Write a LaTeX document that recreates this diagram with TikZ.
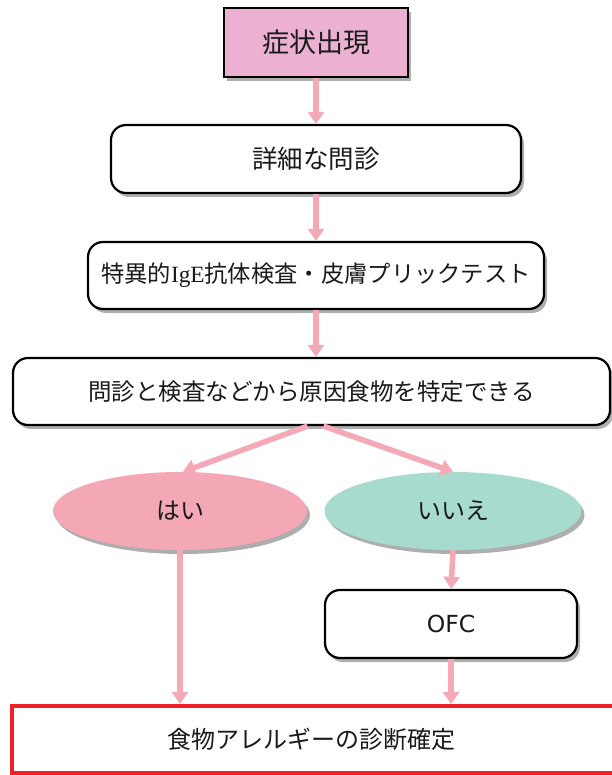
\documentclass[tikz,border=0pt]{standalone}
\usepackage{fontspec}
\setmainfont{Noto Sans CJK JP}
\newfontfamily\latinserif{Liberation Serif}
\newfontfamily\latinsans{DejaVu Sans}
\usetikzlibrary{shapes.geometric,shadows,arrows.meta}
\definecolor{toppink}{HTML}{EBB0D2}
\definecolor{arrowpink}{HTML}{F5A8B6}
\definecolor{yespink}{HTML}{F4A8B5}
\definecolor{nogreen}{HTML}{A6DBCE}
\definecolor{finalred}{HTML}{EE2028}
\definecolor{txt}{HTML}{1A1A1A}
\tikzset{
  boxshadow/.style={drop shadow={shadow xshift=3pt,shadow yshift=-4pt,opacity=0.45,fill=black!70}},
  topbox/.style={draw=black,line width=2.2pt,fill=toppink,rectangle,boxshadow,text=txt,font=\fontsize{27}{30}\selectfont,inner sep=0pt},
  roundbox/.style={draw=black,line width=2.2pt,fill=white,rectangle,rounded corners=15pt,boxshadow,text=txt,font=\fontsize{23.5}{27}\selectfont,inner sep=0pt},
  answer/.style={ellipse,draw=none,boxshadow,text=txt,font=\fontsize{24}{27}\selectfont,inner sep=0pt},
  finalbox/.style={draw=finalred,line width=4pt,fill=white,rectangle,text=txt,font=\fontsize{24}{27}\selectfont,inner sep=0pt},
  flow/.style={draw=arrowpink,line width=5.5pt,-{Triangle[width=16pt,length=12pt]}},
}
\begin{document}
\begin{tikzpicture}[x=1pt,y=-1pt]
\useasboundingbox (0,0) rectangle (611,775);
\node[topbox,minimum width=184pt,minimum height=69pt] (sym) at (316,42.5) {症状出現};
\node[roundbox,minimum width=410pt,minimum height=68pt,font=\fontsize{25.5}{28}\selectfont] (hist) at (316,159) {詳細な問診};
\node[roundbox,minimum width=456pt,minimum height=67pt,font=\fontsize{23.3}{27}\selectfont] (test) at (316,275.5) {特異的{\latinserif IgE}抗体検査・皮膚プリックテスト};
\node[roundbox,minimum width=597pt,minimum height=67pt] (ident) at (311.5,391.5) {問診と検査などから原因食物を特定できる};
\node[answer,fill=yespink,minimum width=254pt,minimum height=78pt] (yes) at (180,511) {はい};
\node[answer,fill=nogreen,minimum width=257pt,minimum height=78pt] (no) at (453,511) {いいえ};
\node[roundbox,minimum width=252pt,minimum height=68pt] (ofc) at (451,624) {\latinsans OFC};
\node[finalbox,minimum width=614pt,minimum height=67pt] (final) at (319,739.5) {\hspace*{-16pt}食物アレルギーの診断確定};
\draw[flow] (sym.south) -- (hist.north);
\draw[flow] (hist.south) -- (test.north);
\draw[flow] (test.south -| sym.south) -- (ident.north -| sym.south);
\draw[flow] ([xshift=-4pt]ident.south) -- ([xshift=3pt]yes.north);
\draw[flow] ([xshift=12pt]ident.south) -- (no.north);
\draw[flow] (yes.south) -- (yes.south |- final.north);
\draw[flow] (no.south) -- (ofc.north);
\draw[flow] (ofc.south) -- (ofc.south |- final.north);
\end{tikzpicture}
\end{document}
